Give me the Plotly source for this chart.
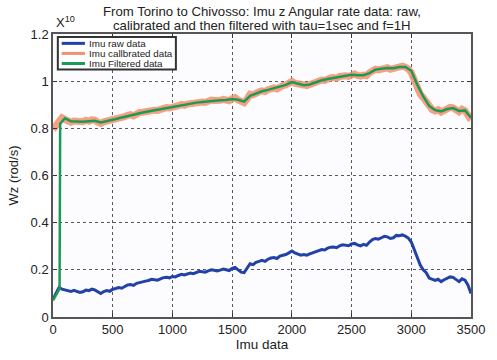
import plotly.graph_objects as go

# Sample index for raw / calibrated series (every 25 samples)
sample_idx = list(range(0, 3501, 25))

# Raw z angular rate (x1e10)
raw_wz = [
    0.075, 0.100, 0.125, 0.118, 0.115, 0.110, 0.108, 0.113, 0.110, 0.104,
    0.107, 0.114, 0.112, 0.118, 0.115, 0.106, 0.100, 0.108, 0.112, 0.109,
    0.118, 0.121, 0.125, 0.122, 0.130, 0.136, 0.138, 0.134, 0.143, 0.147,
    0.148, 0.152, 0.155, 0.160, 0.158, 0.156, 0.162, 0.167, 0.168, 0.166,
    0.172, 0.170, 0.176, 0.181, 0.178, 0.183, 0.186, 0.184, 0.190, 0.194,
    0.192, 0.190, 0.196, 0.200, 0.198, 0.195, 0.199, 0.203, 0.200, 0.197,
    0.206, 0.210, 0.200, 0.190, 0.188, 0.205, 0.226, 0.222, 0.232, 0.236,
    0.240, 0.236, 0.245, 0.250, 0.252, 0.248, 0.258, 0.262, 0.265, 0.272,
    0.280, 0.272, 0.268, 0.262, 0.265, 0.262, 0.268, 0.273, 0.278, 0.281,
    0.286, 0.284, 0.292, 0.296, 0.297, 0.294, 0.302, 0.306, 0.305, 0.302,
    0.310, 0.312, 0.306, 0.302, 0.308, 0.304, 0.318, 0.328, 0.333, 0.330,
    0.336, 0.342, 0.340, 0.333, 0.336, 0.346, 0.345, 0.348, 0.343, 0.335,
    0.318, 0.285, 0.245, 0.220, 0.200, 0.188, 0.165, 0.160, 0.155, 0.160,
    0.150, 0.158, 0.165, 0.170, 0.168, 0.160, 0.150, 0.162, 0.156, 0.135,
    0.100,
]

# Calibrated z angular rate (x1e10)
cal_wz = [
    0.795, 0.815, 0.838, 0.845, 0.838, 0.832, 0.826, 0.831, 0.829, 0.823,
    0.828, 0.834, 0.830, 0.836, 0.835, 0.826, 0.821, 0.828, 0.831, 0.829,
    0.837, 0.842, 0.845, 0.841, 0.849, 0.855, 0.858, 0.853, 0.862, 0.867,
    0.868, 0.872, 0.875, 0.880, 0.877, 0.876, 0.882, 0.887, 0.888, 0.886,
    0.892, 0.890, 0.896, 0.901, 0.898, 0.903, 0.906, 0.904, 0.910, 0.914,
    0.912, 0.910, 0.916, 0.920, 0.918, 0.915, 0.919, 0.923, 0.920, 0.917,
    0.926, 0.930, 0.920, 0.911, 0.909, 0.925, 0.945, 0.942, 0.951, 0.955,
    0.959, 0.956, 0.964, 0.969, 0.971, 0.967, 0.977, 0.981, 0.984, 0.991,
    0.999, 0.991, 0.987, 0.981, 0.984, 0.981, 0.987, 0.992, 0.997, 1.000,
    1.005, 1.003, 1.010, 1.014, 1.015, 1.012, 1.020, 1.024, 1.023, 1.020,
    1.028, 1.030, 1.024, 1.021, 1.026, 1.023, 1.036, 1.046, 1.051, 1.048,
    1.053, 1.059, 1.057, 1.050, 1.054, 1.062, 1.061, 1.064, 1.059, 1.052,
    1.036, 1.003, 0.963, 0.945, 0.930, 0.912, 0.888, 0.879, 0.874, 0.879,
    0.869, 0.877, 0.884, 0.889, 0.887, 0.880, 0.870, 0.881, 0.875, 0.855,
    0.835,
]

# Filtered series (tau = 1 s, f = 1 Hz)
filt_idx = [0, 30, 55, 60] + list(range(100, 3501, 50))
filt_wz = [
    0.070, 0.100, 0.120, 0.820,
    0.843, 0.830, 0.828, 0.828, 0.830, 0.832, 0.825, 0.829, 0.836, 0.843,
    0.848, 0.856, 0.861, 0.867, 0.873, 0.877, 0.881, 0.886, 0.890, 0.895,
    0.899, 0.904, 0.909, 0.912, 0.915, 0.918, 0.919, 0.920, 0.924, 0.921,
    0.913, 0.938, 0.949, 0.957, 0.963, 0.969, 0.976, 0.984, 0.996, 0.988,
    0.983, 0.986, 0.996, 1.004, 1.009, 1.014, 1.019, 1.022, 1.027, 1.025,
    1.025, 1.034, 1.049, 1.053, 1.056, 1.055, 1.060, 1.060, 1.044, 0.985,
    0.935, 0.895, 0.877, 0.872, 0.882, 0.886, 0.874, 0.876, 0.845,
]

x_ticks = [0, 500, 1000, 1500, 2000, 2500, 3000, 3500]
y_ticks = [0, 0.2, 0.4, 0.6, 0.8, 1.0, 1.2]
y_tick_text = ["0", "0.2", "0.4", "0.6", "0.8", "1", "1.2"]

series_names = ["Imu raw data", "Imu callbrated data", "Imu Filtered data"]
title_lines = ["From Torino to Chivosso: Imu z Angular rate data: raw,",
               "calibrated and then filtered with tau=1sec and f=1H"]
c_raw = "#2342a8"
c_cal = "#f4906c"
c_filt = "#1b9a55"

FONT = "Liberation Sans, Arial, sans-serif"
W, H = 497, 360
L, R, T, B = 53, 12, 34, 39
PW, PH = W - L - R, H - T - B


def px(x):
    return (x - L) / PW


def py(y):
    return (H - B - y) / PH


fig = go.Figure()
fig.add_trace(go.Scatter(
    x=sample_idx, y=cal_wz, mode="lines", name=series_names[1],
    line=dict(color=c_cal, width=7), opacity=0.85, showlegend=False))
fig.add_trace(go.Scatter(
    x=sample_idx, y=raw_wz, mode="lines", name=series_names[0],
    line=dict(color=c_raw, width=3), showlegend=False))
fig.add_trace(go.Scatter(
    x=filt_idx, y=filt_wz, mode="lines", name=series_names[2],
    line=dict(color=c_filt, width=2.5), showlegend=False))

axis_common = dict(
    showline=True, linecolor="#555", linewidth=1.5, mirror="ticks",
    ticks="inside", ticklen=4, tickcolor="#333",
    showgrid=True, gridcolor="rgba(45,45,65,0.8)", griddash="dot", gridwidth=1,
    zeroline=False, tickfont=dict(family=FONT, size=13, color="#222"),
    ticklabeloverflow="allow",
)

fig.update_xaxes(range=[0, 3500], tickvals=x_ticks,
                 title=dict(text="Imu data", font=dict(family=FONT, size=13.5, color="#222"),
                            standoff=1),
                 **axis_common)
fig.update_yaxes(range=[0, 1.2], tickvals=y_ticks, ticktext=y_tick_text,
                 title=dict(text="Wz (rod/s)", font=dict(family=FONT, size=13, color="#222"),
                            standoff=9),
                 **axis_common)

annotations = [
    dict(text=title_lines[0], x=0.5, y=py(11), xref="paper", yref="paper",
         xanchor="center", yanchor="middle", showarrow=False,
         font=dict(family=FONT, size=13.2, color="#222")),
    dict(text=title_lines[1], x=0.5, y=py(25.5), xref="paper", yref="paper",
         xanchor="center", yanchor="middle", showarrow=False,
         font=dict(family=FONT, size=13.2, color="#222")),
    dict(text="X<sup>10</sup>", x=px(54), y=py(22), xref="paper", yref="paper",
         xanchor="left", yanchor="middle", showarrow=False,
         font=dict(family=FONT, size=13, color="#222")),
]

# Legend box drawn with shapes and annotations
shapes = [
    dict(type="rect", xref="paper", yref="paper", x0=px(58), x1=px(180), y0=py(70), y1=py(37),
         line=dict(color="#333", width=2), fillcolor="white", layer="above"),
]
rows = [43.5, 53.7, 63.9]
for name, col, ry in zip(series_names, [c_raw, c_cal, c_filt], rows):
    shapes.append(dict(type="line", xref="paper", yref="paper", x0=px(62), x1=px(86),
                       y0=py(ry), y1=py(ry), line=dict(color=col, width=3), layer="above"))
    annotations.append(dict(text=name, x=px(88), y=py(ry), xref="paper", yref="paper",
                            xanchor="left", yanchor="middle", showarrow=False,
                            font=dict(family=FONT, size=9.8, color="#222")))

fig.update_layout(
    width=W, height=H, margin=dict(l=L, r=R, t=T, b=B, pad=0),
    paper_bgcolor="white", plot_bgcolor="#fcfcfe",
    showlegend=False, annotations=annotations, shapes=shapes,
)

fig.write_html("out.html")
